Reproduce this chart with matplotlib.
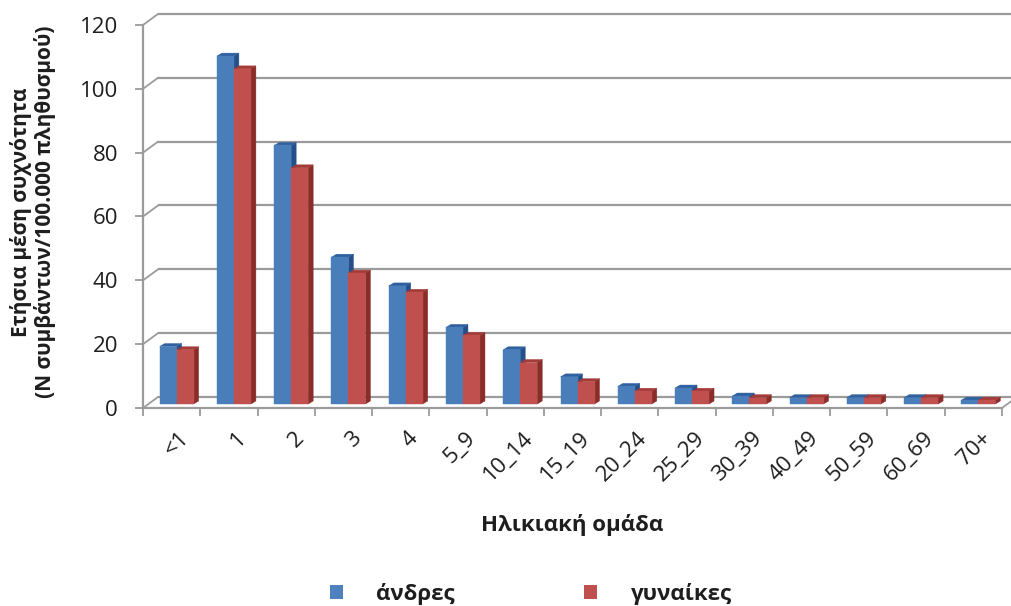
import matplotlib
matplotlib.use("Agg")
import matplotlib.pyplot as plt
from matplotlib.patches import Polygon, Patch
from matplotlib.transforms import ScaledTranslation
import numpy as np

# Age groups and annual mean incidence (cases / 100,000 population)
age_groups = ['<1', '1', '2', '3', '4', '5_9', '10_14', '15_19', '20_24',
              '25_29', '30_39', '40_49', '50_59', '60_69', '70+']
men = [18, 109, 81, 46, 37, 24, 17, 8.5, 5.5, 5, 2.5, 2, 2, 2, 1.2]
women = [17, 105, 74, 41, 35, 21.5, 13, 7, 4, 4, 2, 2, 2, 2, 1.2]
y_ticks = [0, 20, 40, 60, 80, 100, 120]
series_labels = ['άνδρες', 'γυναίκες']
y_title = 'Ετήσια μέση συχνότητα\n(N συμβάντων/100.000 πληθυσμού)'
x_title = 'Ηλικιακή ομάδα'

plt.rcParams['font.family'] = ['Open Sans', 'DejaVu Sans']

W, H = 1011, 606
fig = plt.figure(figsize=(W / 100, H / 100), dpi=100)
fig.patch.set_facecolor('white')

# axes frame in pixels: left edge, bottom edge (from top), width, height
L, B, AW, AH = 143, 408, 859, 383
ax = fig.add_axes([L / W, (H - B) / H, AW / W, AH / H])
n = len(age_groups)
ymax = y_ticks[-1]
ax.set_xlim(0, n)
ax.set_ylim(0, ymax)
ax.patch.set_visible(False)

sx = AW / n        # pixels per category
sy = AH / ymax     # pixels per value unit


def px(dx, dy):
    """pixel offset -> data offset"""
    return dx / sx, dy / sy


wall_dx, wall_dy = px(15, 11)     # back wall shift
plane_dx, plane_dy = px(5, 4)     # plane of the bar fronts
depth_dx, depth_dy = px(5, 3)     # bar depth
bar_w = 17 / sx

grid_col = '#9b9b9b'

# back wall gridlines and side-wall diagonals
for v in y_ticks:
    ax.plot([wall_dx, n + wall_dx + 1], [v + wall_dy] * 2, color=grid_col,
            lw=1.6, clip_on=False, zorder=1, solid_capstyle='butt')
    ax.plot([0, wall_dx], [v, v + wall_dy], color=grid_col, lw=1.3,
            clip_on=False, zorder=1)
# right end of the floor
ax.plot([n, n + wall_dx], [0, wall_dy], color=grid_col, lw=1.3,
        clip_on=False, zorder=1)

blue = ('#4a7ebb', '#2f60a0', '#24508a')
red = ('#c0504d', '#a33b38', '#8a2c29')


def bar3d(x0, v, cols, z):
    face, top, side = cols
    bx, by = x0 + plane_dx, plane_dy
    front = [(bx, by), (bx + bar_w, by), (bx + bar_w, by + v), (bx, by + v)]
    topf = [(bx, by + v), (bx + bar_w, by + v),
            (bx + bar_w + depth_dx, by + v + depth_dy),
            (bx + depth_dx, by + v + depth_dy)]
    sidef = [(bx + bar_w, by), (bx + bar_w + depth_dx, by + depth_dy),
             (bx + bar_w + depth_dx, by + v + depth_dy), (bx + bar_w, by + v)]
    for pts, c in ((sidef, side), (topf, top), (front, face)):
        ax.add_patch(Polygon(pts, closed=True, facecolor=c, edgecolor=c,
                             lw=0.3, zorder=z, clip_on=False))


for i in range(n):
    c = i + 0.5
    bar3d(c - bar_w, men[i], blue, 3)
for i in range(n):
    c = i + 0.5
    bar3d(c, women[i], red, 4)

# axes, ticks and labels
for s in ('top', 'right'):
    ax.spines[s].set_visible(False)
for s in ('left', 'bottom'):
    ax.spines[s].set_color(grid_col)
    ax.spines[s].set_linewidth(1.6)
    ax.spines[s].set_zorder(2)

ax.set_yticks(y_ticks)
ax.tick_params(axis='y', length=6, width=1.3, color=grid_col, pad=12,
               labelsize=16, labelcolor='#1e1e1e')
ax.set_xticks(np.arange(n) + 0.5)
ax.set_xticklabels(age_groups, rotation=45, ha='right', va='top',
                   rotation_mode='anchor')
ax.tick_params(axis='x', which='major', length=0, pad=14, labelsize=16,
               labelcolor='#1e1e1e')
ax.set_xticks(np.arange(n + 1), minor=True)
ax.tick_params(axis='x', which='minor', length=6, width=1.3, color=grid_col)
shift = ScaledTranslation(7 / 100, 0, fig.dpi_scale_trans)
for lbl in ax.get_xticklabels():
    lbl.set_transform(lbl.get_transform() + shift)

ax.set_xlabel(x_title, fontsize=16, fontweight='bold', color='#1e1e1e')
ax.xaxis.set_label_coords(0.5, (B - 525) / AH)
ax.xaxis.label.set_va('center')

fig.text(33 / W, 1 - 212 / H, y_title, rotation=90, ha='center', va='center',
         fontsize=15, fontweight='bold', linespacing=1.15,
         multialignment='center', color='#1e1e1e')

handles = [Patch(facecolor='#4f81bd', edgecolor='none'),
           Patch(facecolor='#c0504d', edgecolor='none')]
fig.legend(handles, series_labels, loc='center', bbox_to_anchor=(0.525, 0.02),
           ncol=2, frameon=False, prop={'weight': 'bold', 'size': 16},
           handlelength=0.6, handleheight=0.6, handletextpad=1.5,
           columnspacing=5.8, borderpad=0, labelcolor='#1e1e1e')

fig.savefig('out.png', dpi=100, facecolor='white')
